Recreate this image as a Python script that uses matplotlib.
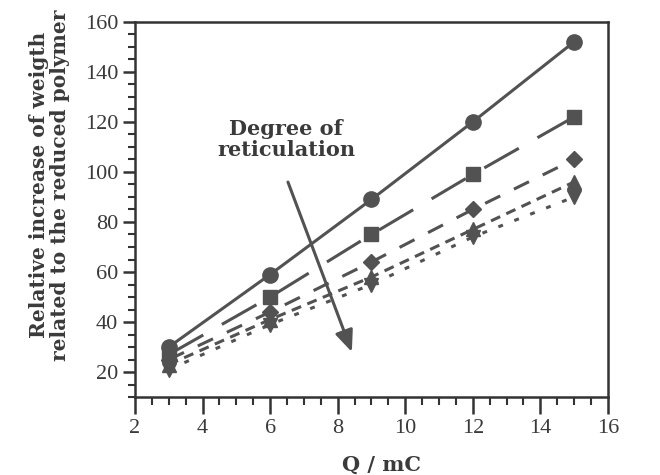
import matplotlib
matplotlib.use('Agg')
from matplotlib import pyplot as plt
from matplotlib.ticker import MultipleLocator

q = [3, 6, 9, 12, 15]
s_circle = [30, 59, 89, 120, 152]
s_square = [27, 50, 75, 99, 122]
s_diamond = [25, 44, 64, 85, 105]
s_up = [23, 41, 58, 77, 96]
s_down = [21, 39, 55, 74, 90]

col = '#525252'
txt = '#3a3a3a'
plt.rcParams['font.family'] = ['Liberation Serif', 'DejaVu Serif']
label_font = ['DejaVu Serif']

fig = plt.figure(figsize=(6.6, 4.75), dpi=100)
ax = fig.add_axes([0.2045, 0.164, 0.7165, 0.79])

ax.plot(q, s_circle, color=col, lw=2.2, ls='-', marker='o', ms=11)
ax.plot(q, s_square, color=col, lw=2.2, ls=(0, (13, 7)), marker='s', ms=10)
ax.plot(q, s_diamond, color=col, lw=2.2, ls=(0, (5.5, 5)), marker='D', ms=8.5)
ax.plot(q, s_up, color=col, lw=2.2, ls=(0, (3.3, 2.2)), marker='^', ms=10)
ax.plot(q, s_down, color=col, lw=2.2, ls=(0, (1.6, 4)), marker='v', ms=10)

# arrow "degree of reticulation"
ax.annotate('', xy=(8.45, 27), xytext=(6.5, 97),
            arrowprops=dict(arrowstyle='-|>,head_length=1.3,head_width=0.55',
                            color=col, lw=2.2))
ax.text(6.47, 113, 'Degree of\nreticulation', ha='center', va='center',
        fontsize=15, fontweight='bold', color=txt, linespacing=1.1, family=label_font)

ax.set_xlim(2, 16)
ax.set_ylim(10, 160)
ax.xaxis.set_major_locator(MultipleLocator(2))
ax.xaxis.set_minor_locator(MultipleLocator(0.5))
ax.yaxis.set_minor_locator(MultipleLocator(5))
ax.set_yticks(range(20, 161, 20))
ax.tick_params(which='major', width=1.8, color='#333333', labelsize=16, labelcolor=txt)
ax.tick_params(axis='x', which='major', length=12, pad=4)
ax.tick_params(axis='x', which='minor', length=6, width=1.5, color='#333333')
ax.tick_params(axis='y', which='major', length=9, pad=3)
ax.tick_params(axis='y', which='minor', length=5, width=1.5, color='#333333')
for sp in ax.spines.values():
    sp.set_linewidth(1.8)
    sp.set_color('#333333')

ax.set_xlabel('Q / mC', fontsize=15, fontweight='bold', color=txt, family=label_font)
ax.xaxis.set_label_coords(0.522, -0.155)
ax.set_ylabel('Relative increase of weigth\nrelated to the reduced polymer', fontsize=14.5,
              fontweight='bold', color=txt, linespacing=1.1, family=label_font)
ax.yaxis.set_label_coords(-0.137, 0.565)

plt.savefig('out.png', dpi=100)
